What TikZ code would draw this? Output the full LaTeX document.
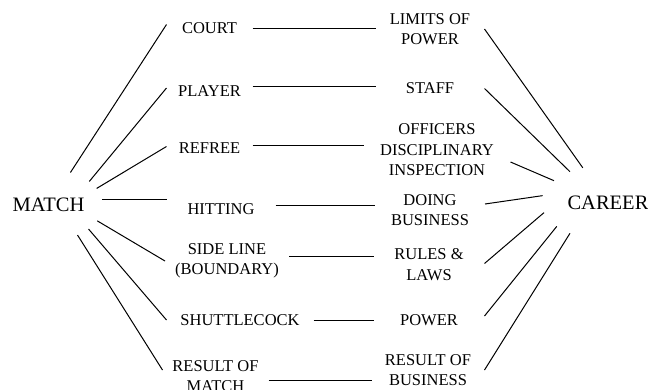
\documentclass[tikz,border=0pt]{standalone}
\usepackage{fontspec}
\setmainfont{Liberation Serif}
\usetikzlibrary{shapes.geometric}

\begin{document}
\begin{tikzpicture}[
      x=1pt, y=-1pt,
      line width=1pt,
      term/.style={
        inner sep=0pt, align=center,
        font=\fontsize{16.5}{20.5}\selectfont
      },
      hub/.style={
        ellipse, inner sep=0pt,
        font=\fontsize{20.5}{24}\selectfont
      }
    ]
    \useasboundingbox (0,0) rectangle (648,389);

    % The two hubs (invisible ellipses, the fans start on their border)
    \node[hub, minimum width=108pt, minimum height=70pt] (match)  at (48.5,205)  {MATCH};
    \node[hub, minimum width=132pt, minimum height=74pt] (career) at (608,202.5) {CAREER};

    % Left column: badminton terms
    \node[term, minimum width=85pt]  (court)    at (209.5,28.5) {COURT};
    \node[term, minimum width=85pt]  (player)   at (209.5,91)   {PLAYER};
    \node[term, minimum width=85pt]  (refree)   at (209.5,148.5){REFREE};
    \node[term, minimum width=108pt] (hitting)  at (221,209.5)  {HITTING};
    \node[term, minimum width=123pt] (sideline) at (227,261)    {SIDE LINE\\(BOUNDARY)};
    \node[term, minimum width=146pt] (shuttle)  at (240,320)    {SHUTTLECOCK};
    \node[term, minimum width=105pt] (resultm)  at (215.5,376)  {RESULT OF\\MATCH};

    % Right column: career terms
    \node[term, minimum width=108pt] (limits)   at (430,29)     {LIMITS OF\\POWER};
    \node[term, minimum width=108pt] (staff)    at (430,88.5)   {STAFF};
    \node[term, minimum width=146pt] (officers) at (437,150)    {OFFICERS\\DISCIPLINARY\\INSPECTION};
    \node[term, minimum width=109pt] (doing)    at (430,210)    {DOING\\BUSINESS};
    \node[term, minimum width=110pt] (rules)    at (429,264.5)  {RULES \&\\LAWS};
    \node[term, minimum width=110pt] (power)    at (429,320)    {POWER};
    \node[term, minimum width=112pt] (resultb)  at (428,370)    {RESULT OF\\BUSINESS};

    % Fan out of MATCH
    \draw (match.56)  -- ([yshift=4pt]court.west);
    \draw (match.30)  -- ([yshift=3pt]player.west);
    \draw (match.19)  -- ([yshift=2pt]refree.west);
    \draw (match.6)   -- (match.6 -| hitting.west);
    \draw (match.-18) -- (sideline.west);
    \draw (match.-31) -- (shuttle.west);
    \draw (match.-46) -- ([yshift=6pt]resultm.west);

    % Links across
    \draw (court.east) -- (court.east -| limits.west);
    \draw ([yshift=5pt]player.east) -- ([yshift=5pt]player.east -| staff.west);
    \draw ([yshift=3pt]refree.east) -- ([yshift=3pt]refree.east -| officers.west);
    \draw ([yshift=4pt]hitting.east) -- ([yshift=4pt]hitting.east -| doing.west);
    \draw ([yshift=5pt]sideline.east) -- ([yshift=5pt]sideline.east -| rules.west);
    \draw (shuttle.east) -- (shuttle.east -| power.west);
    \draw ([yshift=-4pt]resultm.east) -- ([yshift=-4pt]resultm.east -| resultb.west);

    % Fan into CAREER
    \draw (limits.east) -- (career.126);
    \draw (staff.east) -- (career.141);
    \draw ([yshift=-12pt]officers.east) -- (career.158);
    \draw ([yshift=6pt]doing.east) -- (career.174);
    \draw ([yshift=1pt]rules.east) -- (career.189);
    \draw ([yshift=4pt]power.east) -- (career.205);
    \draw (resultb.east) -- (career.219);
\end{tikzpicture}
\end{document}
